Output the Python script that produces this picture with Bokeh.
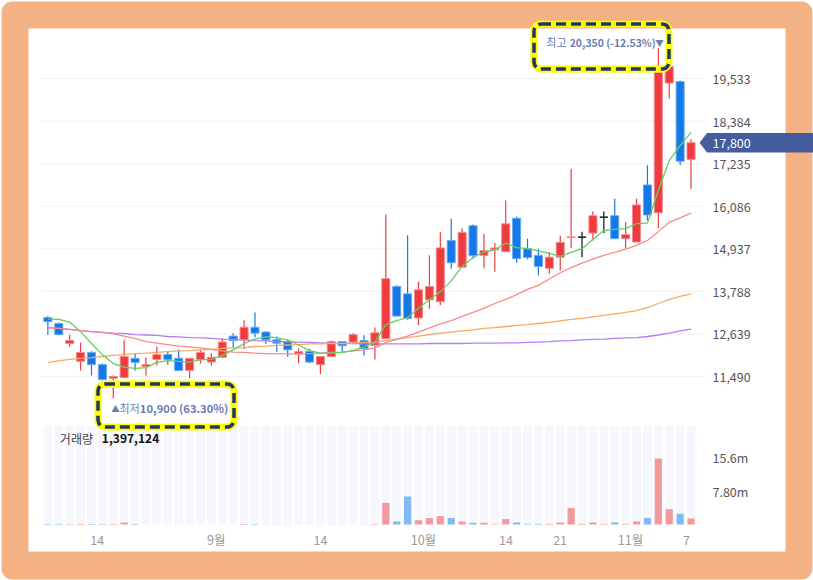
from bokeh.plotting import figure
from bokeh.models import (ColumnDataSource, Range1d, LinearAxis, FixedTicker,
                          BoxAnnotation, Label, PolyAnnotation)
from bokeh.embed import file_html
from bokeh.resources import INLINE

# ---------------- data ----------------
opens = [13080, 12920, 12380, 11900, 12140, 11810, 11440, 11460, 11980, 11760,
         11950, 12080, 11980, 11650, 11950, 11880, 12010, 12580, 12480, 12820,
         12690, 12480, 12430, 12100, 12170, 11810, 12030, 12430, 12420, 12460,
         12330, 12510, 13920, 13720, 13070, 13560, 13510, 15160, 14440, 15560,
         14760, 14910, 14860, 15760, 14940, 14760, 14410, 14710, 15240, 15250,
         15360, 15790, 15830, 15210, 15120, 16660, 15910, 19410, 19450, 17350]
highs = [13120, 12950, 12620, 12410, 12170, 11840, 11520, 12460, 12110, 12000,
         12300, 12170, 12220, 11980, 12220, 12120, 12520, 12660, 13010, 13220,
         12710, 12570, 12480, 12250, 12240, 12030, 12460, 12430, 12660, 12600,
         12810, 15860, 13950, 15300, 14050, 14760, 15400, 15750, 15490, 15590,
         15340, 15100, 16240, 15810, 15210, 14940, 14850, 15290, 17100, 15400,
         15950, 15940, 16290, 15650, 16290, 17190, 20350, 19860, 19480, 17890]
lows = [12620, 12600, 12300, 11650, 11520, 11380, 10900, 11440, 11650, 11520,
        11790, 11810, 11650, 11440, 11840, 11790, 11980, 12250, 12230, 12550,
        12370, 12150, 12020, 11850, 11850, 11560, 12010, 12120, 12370, 12060,
        11950, 12510, 13120, 13020, 12870, 13320, 13410, 14400, 14440, 14660,
        14410, 14320, 14860, 14560, 14650, 14220, 14260, 14350, 14960, 14710,
        15160, 15360, 15210, 14950, 15120, 15700, 15500, 18990, 17200, 16560]
closes = [12970, 12620, 12460, 12140, 11810, 11410, 11490, 12030, 11870, 11810,
          12080, 11950, 11650, 11980, 12140, 12010, 12420, 12460, 12820, 12660,
          12480, 12390, 12210, 12160, 11880, 12030, 12430, 12320, 12620, 12240,
          12670, 14130, 13120, 13060, 13830, 13920, 14960, 14560, 15380, 14750,
          14890, 14960, 15610, 14670, 14700, 14460, 14710, 15110, 15260, 15250,
          15830, 15790, 15210, 15320, 16120, 15850, 19700, 19860, 17300, 17800]
volumes = [120000, 120000, 120000, 120000, 120000, 120000, 120000, 470000, 120000, 20000,
           20000, 20000, 20000, 20000, 20000, 20000, 20000, 20000, 100000, 100000,
           20000, 20000, 20000, 20000, 20000, 20000, 20000, 20000, 20000, 20000,
           100000, 5080000, 700000, 6560000, 1000000, 1500000, 1970000, 1500000, 700000, 400000,
           400000, 150000, 1260000, 470000, 150000, 150000, 150000, 470000, 3840000, 150000,
           470000, 150000, 470000, 150000, 700000, 1500000, 15450000, 3600000, 2500000, 1397124]
ma5 = [13040, 13030, 12960, 12700, 12380, 12080, 11840, 11740, 11710, 11730,
       11870, 11920, 11900, 11880, 11940, 11950, 12060, 12210, 12380, 12500,
       12560, 12540, 12480, 12340, 12190, 12120, 12120, 12140, 12190, 12290,
       12420, 12890, 13000, 13080, 13330, 13570, 13780, 14070, 14460, 14700,
       14850, 14910, 15090, 14970, 14940, 14880, 14810, 14730, 14840, 14940,
       15190, 15430, 15460, 15480, 15620, 15630, 16510, 17320, 17720, 18080]
ma20 = [12800, 12790, 12760, 12730, 12700, 12680, 12640, 12580, 12520, 12430,
        12390, 12350, 12310, 12290, 12260, 12220, 12180, 12150, 12140, 12120,
        12110, 12100, 12100, 12100, 12110, 12120, 12140, 12150, 12180, 12210,
        12260, 12410, 12490, 12580, 12690, 12800, 12910, 13000, 13110, 13220,
        13330, 13460, 13570, 13700, 13840, 13950, 14120, 14290, 14430, 14550,
        14660, 14760, 14840, 14930, 15030, 15160, 15400, 15650, 15770, 15900]
ma60 = [11870, 11910, 11950, 11980, 12000, 12030, 12060, 12080, 12110, 12120,
        12140, 12160, 12180, 12190, 12210, 12220, 12250, 12260, 12270, 12300,
        12310, 12330, 12340, 12350, 12370, 12370, 12380, 12380, 12390, 12410,
        12420, 12460, 12500, 12540, 12580, 12620, 12660, 12690, 12720, 12750,
        12790, 12810, 12840, 12870, 12890, 12920, 12950, 12990, 13030, 13060,
        13100, 13140, 13180, 13220, 13270, 13350, 13460, 13570, 13650, 13720]
ma120 = [12810, 12790, 12760, 12730, 12700, 12680, 12660, 12650, 12620, 12610,
         12600, 12570, 12560, 12540, 12530, 12520, 12500, 12490, 12480, 12460,
         12450, 12430, 12430, 12420, 12410, 12400, 12390, 12380, 12380, 12370,
         12370, 12370, 12370, 12370, 12370, 12380, 12380, 12380, 12380, 12390,
         12390, 12390, 12400, 12400, 12410, 12420, 12430, 12450, 12460, 12480,
         12490, 12500, 12520, 12530, 12540, 12570, 12610, 12660, 12720, 12770]
price_ticks = [11490, 12639, 13788, 14937, 16086, 17235, 18384, 19533]
volume_ticks = [7.8e6, 15.6e6]
volume_tick_labels = ["7.80m", "15.6m"]
x_tick_pos = [4.53, 15.44, 25.0, 34.45, 42.03, 46.99, 53.45, 58.57]
x_tick_labels = ["14", "9월", "14", "10월", "14", "21", "11월", "7"]

# ---------------- styling / layout ----------------
FONT = "Noto Sans CJK KR"
UP, DOWN, FLAT = "#ef3b3e", "#1478e6", "#111111"
UP_LINE, DOWN_LINE = "#f58a8c", "#6aaaf0"
UP_V, DOWN_V = "#f4999b", "#80b9f4"
ANNOT = "#6a7cb6"
TAG = "#445d9c"
ORANGE = "#F4B183"

W, H = 813, 580
PX_PER_BAR = 10.9015          # pixels per candle
BAR0_PX = 47.36               # pixel x of first candle
PRICE_PER_PX = 26.9901
PRICE_AT_TOP = 21638.2
VOL_PER_PX = 234196.0
VOL_BASE_PX = 524.0           # pixel y of volume baseline / x-axis
PLOT_RIGHT_PX = 696.0         # right edge of the chart area

X0 = -BAR0_PX / PX_PER_BAR
X1 = X0 + W / PX_PER_BAR
Y1 = PRICE_AT_TOP
Y0 = PRICE_AT_TOP - H * PRICE_PER_PX
V1 = VOL_BASE_PX * VOL_PER_PX
V0 = -(H - VOL_BASE_PX) * VOL_PER_PX

n = len(closes)
idx = list(range(n))
col = [UP if c > o else (DOWN if c < o else FLAT) for o, c in zip(opens, closes)]
lcol = [UP_LINE if c > o else (DOWN_LINE if c < o else FLAT) for o, c in zip(opens, closes)]
vcol = [DOWN_V if c < o else UP_V for o, c in zip(opens, closes)]
src = ColumnDataSource(dict(
    x=idx, o=opens, h=highs, l=lows, c=closes,
    top=[max(o, c) for o, c in zip(opens, closes)],
    bot=[min(o, c) for o, c in zip(opens, closes)],
    col=col, lcol=lcol, vol=volumes, vcol=vcol,
))

p = figure(width=W, height=H, x_range=Range1d(X0, X1), y_range=Range1d(Y0, Y1),
           output_backend="svg", toolbar_location=None,
           x_axis_location=None, y_axis_location=None, min_border=0)
p.extra_y_ranges = {"vol": Range1d(V0, V1)}
p.border_fill_color = "white"
p.background_fill_color = "white"
p.outline_line_color = None
p.xgrid.visible = False
p.ygrid.visible = False


def canvas_box(l, r, t, b, **kw):
    return BoxAnnotation(left=l, right=r, top=t, bottom=b,
                         left_units="canvas", right_units="canvas",
                         top_units="canvas", bottom_units="canvas", **kw)


# orange rounded frame and white inner panel
p.add_layout(canvas_box(1, W - 1, 1, H - 1, fill_color=ORANGE, fill_alpha=1.0,
                        line_color=None, border_radius=11, level="image"))
p.add_layout(canvas_box(28, W - 28, 28, H - 29, fill_color="white", fill_alpha=1.0,
                        line_color=None, level="image"))

# horizontal grid lines at the price ticks
x_grid0 = X0 + 40 / PX_PER_BAR
x_grid1 = X0 + 704 / PX_PER_BAR
p.segment(x0=[x_grid0] * len(price_ticks), x1=[x_grid1] * len(price_ticks),
          y0=price_ticks, y1=price_ticks, line_color="#f1f1f1", line_width=1)

# axes (drawn at fixed locations inside the canvas)
x_axis_at = X0 + PLOT_RIGHT_PX / PX_PER_BAR
y_axis_at = PRICE_AT_TOP - VOL_BASE_PX * PRICE_PER_PX
vol_pos = [Y0 + (v - V0) / (V1 - V0) * (Y1 - Y0) for v in volume_ticks]
overrides = {t: f"{t:,}" for t in price_ticks}
overrides.update({vp: lab for vp, lab in zip(vol_pos, volume_tick_labels)})
yax = LinearAxis(ticker=FixedTicker(ticks=price_ticks + vol_pos, minor_ticks=[]),
                 major_label_overrides=overrides, fixed_location=x_axis_at)
yax.axis_line_color = None
yax.major_tick_line_color = None
yax.minor_tick_line_color = None
yax.major_tick_out = 0
yax.major_tick_in = 0
yax.major_label_standoff = 16
yax.major_label_text_font = FONT
yax.major_label_text_font_size = "12.5px"
yax.major_label_text_color = "#555555"
p.add_layout(yax, "right")

xax = LinearAxis(ticker=FixedTicker(ticks=x_tick_pos, minor_ticks=[]),
                 major_label_overrides=dict(zip(x_tick_pos, x_tick_labels)),
                 fixed_location=y_axis_at)
xax.axis_line_color = None
xax.major_tick_line_color = None
xax.minor_tick_line_color = None
xax.major_tick_out = 0
xax.major_tick_in = 0
xax.major_label_standoff = 5
xax.major_label_text_font = FONT
xax.major_label_text_font_size = "12.5px"
xax.major_label_text_color = "#9a9a9a"
p.add_layout(xax, "below")

# volume panel
bg_top = max(volumes) * 1.5
p.vbar(x="x", width=0.8, top=bg_top, bottom=0, source=src, y_range_name="vol",
       fill_color="#f5f7fc", line_color=None)
p.vbar(x="x", width=0.66, top="vol", bottom=0, source=src, y_range_name="vol",
       fill_color="vcol", line_color=None)

# candles
p.segment(x0="x", y0="l", x1="x", y1="h", source=src, line_color="col", line_width=1.2)
p.vbar(x="x", width=0.74, top="top", bottom="bot", source=src,
       fill_color="col", line_color="lcol", line_width=1)

# moving averages
p.line(idx, ma120, line_color="#b47ff4", line_width=1.3)
p.line(idx, ma60, line_color="#f8a862", line_width=1.3)
p.line(idx, ma20, line_color="#f88a8c", line_width=1.3)
p.line(idx, ma5, line_color="#62cf62", line_width=1.3)

# volume caption
p.add_layout(Label(x=0, y=bg_top, y_range_name="vol", x_offset=12, y_offset=-13,
                   text="거래량", text_font=FONT, text_font_size="12px",
                   text_color="#444444", text_baseline="middle"))
p.add_layout(Label(x=0, y=bg_top, y_range_name="vol", x_offset=54, y_offset=-13,
                   text=f"{volumes[-1]:,}", text_font=FONT, text_font_size="12px",
                   text_font_style="bold", text_color="#111111", text_baseline="middle"))

# high / low captions
hi = max(highs)
hi_i = highs.index(hi)
lo = min(lows)
lo_i = lows.index(lo)
last = closes[-1]
hi_txt = f"{hi:,} ({(last / hi - 1) * 100:.2f}%)"
lo_txt = f"{lo:,} ({(last / lo - 1) * 100:.2f}%)"

p.add_layout(Label(x=hi_i, y=hi, x_offset=-3, y_offset=6, text="▼", text_font=FONT,
                   text_font_size="8.5px", text_color=ANNOT, text_baseline="middle"))
p.add_layout(Label(x=hi_i, y=hi, x_offset=-88.6, y_offset=6, text=hi_txt, text_font=FONT,
                   text_font_size="10.4px", text_font_style="bold", text_color=ANNOT,
                   text_baseline="middle"))
p.add_layout(Label(x=hi_i, y=hi, x_offset=-112, y_offset=6, text="최고", text_font=FONT,
                   text_font_size="11px", text_color=ANNOT, text_baseline="middle"))

p.add_layout(Label(x=lo_i, y=lo, x_offset=-2, y_offset=-10, text="▲", text_font=FONT,
                   text_font_size="8.5px", text_color=ANNOT, text_baseline="middle"))
p.add_layout(Label(x=lo_i, y=lo, x_offset=6.2, y_offset=-10, text="최저", text_font=FONT,
                   text_font_size="11px", text_color=ANNOT, text_baseline="middle"))
p.add_layout(Label(x=lo_i, y=lo, x_offset=26.6, y_offset=-10, text=lo_txt, text_font=FONT,
                   text_font_size="11.2px", text_font_style="bold", text_color=ANNOT,
                   text_baseline="middle"))

# current price tag
li = n - 1
hh = 9.8 * PRICE_PER_PX
tag = PolyAnnotation(
    xs=[li + 8.5 / PX_PER_BAR, li + 16 / PX_PER_BAR, X1 + 1, X1 + 1, li + 16 / PX_PER_BAR],
    ys=[last, last + hh, last + hh, last - hh, last - hh],
    fill_color=TAG, fill_alpha=1.0, line_color=None)
p.add_layout(tag)
p.add_layout(Label(x=li, y=last, x_offset=21.5, text=f"{last:,}", text_font=FONT,
                   text_font_size="12.5px", text_color="white", text_baseline="middle"))

# highlight boxes (yellow border with navy dashes)
for (l, r, t, b) in [(530, 672, 20, 72), (94, 237, 380, 430)]:
    for lc, lw, dash in [("#FFFF00", 7, "solid"), ("#1F3864", 3.5, "10 5")]:
        p.add_layout(canvas_box(l + 3.5, r - 3.5, t + 3.5, b - 3.5,
                                fill_color=None, line_color=lc, line_alpha=1.0,
                                line_width=lw, line_dash=dash, border_radius=7))

open("out.html", "w").write(file_html(p, INLINE))
